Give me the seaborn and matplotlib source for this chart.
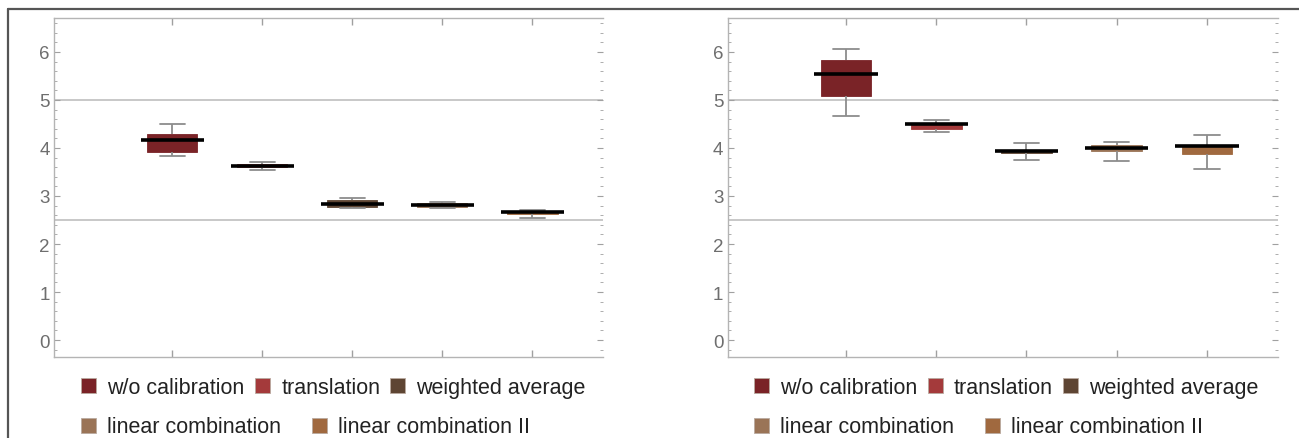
import numpy as np
import pandas as pd
import seaborn as sns
import matplotlib.pyplot as plt
from matplotlib.lines import Line2D
from matplotlib.ticker import MultipleLocator, FixedLocator

sns.set_theme(style="white")
plt.rcParams['font.family'] = ['Liberation Sans', 'DejaVu Sans']

# calibration methods, legend order
methods = ["w/o calibration", "translation", "weighted average",
           "linear combination", "linear combination II"]
colores = ["#7a2327", "#a43a3b", "#5e4533", "#9a7457", "#a0693f"]

# five-number summaries: low whisker, q1, median, q3, high whisker
izq_lo = [3.83, 3.55, 2.75, 2.75, 2.55]
izq_q1 = [3.91, 3.61, 2.77, 2.77, 2.63]
izq_med = [4.17, 3.63, 2.84, 2.81, 2.66]
izq_q3 = [4.30, 3.66, 2.91, 2.85, 2.69]
izq_hi = [4.50, 3.70, 2.96, 2.87, 2.71]

der_lo = [4.67, 4.33, 3.76, 3.73, 3.56]
der_q1 = [5.08, 4.40, 3.90, 3.93, 3.88]
der_med = [5.54, 4.51, 3.94, 4.01, 4.04]
der_q3 = [5.83, 4.52, 3.95, 4.06, 4.06]
der_hi = [6.06, 4.59, 4.10, 4.13, 4.27]

lineas_ref = [5.0, 2.5]
yticks = [0, 1, 2, 3, 4, 5, 6]


def armar_df(lo, q1, med, q3, hi):
    filas = []
    for i, m in enumerate(methods):
        for v in (lo[i], q1[i], med[i], q3[i], hi[i]):
            filas.append({"method": m, "value": v})
    return pd.DataFrame(filas)


def panel(ax, df):
    for y in lineas_ref:
        ax.axhline(y, color="#c8c8c8", lw=1.4, zorder=0)
    # boxes and whiskers
    sns.boxplot(data=df, x="method", y="value", hue="method", order=methods,
                hue_order=methods, palette=colores, saturation=1, width=0.56,
                whis=(0, 100), linecolor="#8c8c8c", linewidth=1.3, legend=False,
                ax=ax, medianprops={"visible": False})
    for p, c in zip(ax.patches, colores):
        p.set_edgecolor(c)
        p.set_linewidth(0.6)
    # wide black medians
    sns.boxplot(data=df, x="method", y="value", order=methods, width=0.70,
                whis=(0, 100), color="w", showcaps=False, ax=ax,
                boxprops={"visible": False}, whiskerprops={"visible": False},
                medianprops={"color": "black", "linewidth": 2.6})

    ax.set_xlim(-1.313, 4.787)
    ax.set_ylim(-0.354, 6.708)
    ax.set_xlabel("")
    ax.set_ylabel("")
    ax.yaxis.set_major_locator(FixedLocator(yticks))
    ax.yaxis.set_minor_locator(MultipleLocator(0.2))
    ax.set_xticks(range(len(methods)))
    ax.set_xticklabels([])
    ax.tick_params(axis="both", which="both", direction="in", color="#a0a0a0",
                   labelcolor="#6e6e6e", labelsize=13.5, pad=3)
    ax.tick_params(axis="y", which="major", length=4, width=0.8, right=True, left=True)
    ax.tick_params(axis="y", which="minor", length=2, width=0.6, right=True, left=True)
    ax.tick_params(axis="x", which="major", length=5, width=1.0, top=True, bottom=True)
    for s in ["left", "bottom", "top"]:
        ax.spines[s].set_color("#b4b4b4")
        ax.spines[s].set_linewidth(1.0)
    ax.spines["right"].set_visible(False)


fig = plt.figure(figsize=(12.99, 4.39), dpi=100)
W, H = 1299, 439
ax1 = fig.add_axes([53.9 / W, 1 - 358 / H, (603.2 - 53.9) / W, (358 - 19) / H])
ax2 = fig.add_axes([727.5 / W, 1 - 358 / H, (1278 - 727.5) / W, (358 - 19) / H])

panel(ax1, armar_df(izq_lo, izq_q1, izq_med, izq_q3, izq_hi))
panel(ax2, armar_df(der_lo, der_q1, der_med, der_q3, der_hi))

# legends below each panel, two rows
handles = [Line2D([], [], ls="none", marker="s", markersize=10.8, markerfacecolor=c,
                  markeredgecolor="#b9aaa0", markeredgewidth=0.6) for c in colores]
for x0 in (80.8, 753.6):
    for idx, y0, sep in [((0, 1, 2), 388.5, 0.45), ((3, 4), 428.0, 1.38)]:
        leg = fig.legend([handles[i] for i in idx], [methods[i] for i in idx],
                         loc="center left", bbox_to_anchor=(x0 / W, 1 - y0 / H),
                         ncol=len(idx), frameon=False, fontsize=15.5,
                         handlelength=0.7, handletextpad=0.54, columnspacing=sep,
                         borderpad=0, borderaxespad=0)
        for t in leg.get_texts():
            t.set_color("#222222")

# outer frame of the original figure
fig.add_artist(Line2D([8 / W, 1], [1 - 10 / H, 1 - 10 / H], color="#555555", lw=1.6))
fig.add_artist(Line2D([8 / W, 8 / W], [0, 1 - 10 / H], color="#555555", lw=1.6))

fig.savefig("out.png", dpi=100)
